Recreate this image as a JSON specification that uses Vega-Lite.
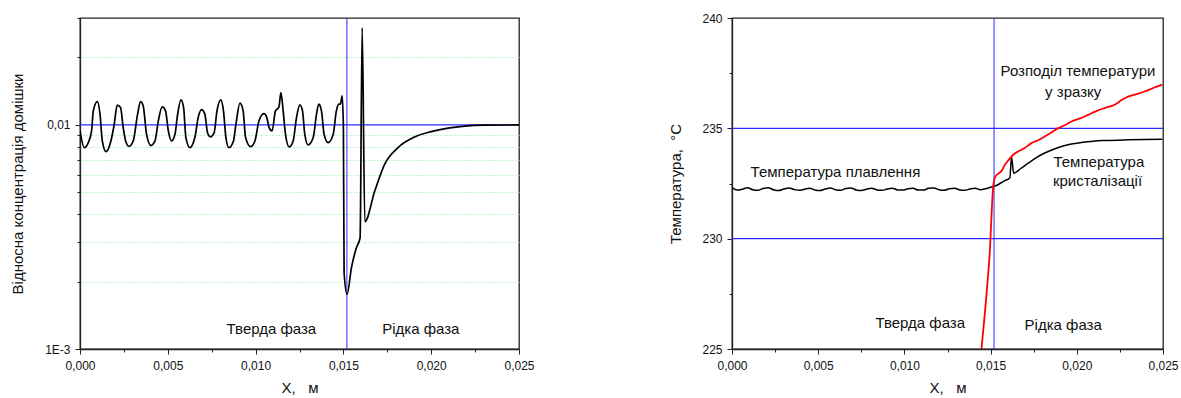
{
  "$schema": "https://vega.github.io/schema/vega-lite/v6.json",
  "padding": {"left": 10, "top": 11, "right": 5, "bottom": 0},
  "config": {
    "font": "Liberation Sans",
    "view": {"stroke": "#222", "strokeWidth": 1.3},
    "axis": {"domainColor": "#222", "domainWidth": 1.3, "tickColor": "#222", "tickWidth": 1, "labelFont": "Liberation Sans", "labelFontSize": 12, "labelColor": "#111", "labelFlush": false, "titleFont": "Liberation Sans", "titleFontSize": 15, "titleFontWeight": "normal", "titleColor": "#111", "grid": false},
    "text": {"font": "Liberation Sans", "fontSize": 15, "color": "#111"}
  },
  "datasets": {
    "conc": [
      {"x": 0, "y": 0.0094}, {"x": 0.000245, "y": 0.00792}, {"x": 0.000472, "y": 0.00834}, {"x": 0.00066, "y": 0.0094}, {"x": 0.000757, "y": 0.01155}, {"x": 0.000985, "y": 0.0127}, {"x": 0.00114, "y": 0.01117}, {"x": 0.00127, "y": 0.00848}, {"x": 0.00148, "y": 0.0076}, {"x": 0.00176, "y": 0.00848}, {"x": 0.00195, "y": 0.01007}, {"x": 0.00212, "y": 0.01225}, {"x": 0.00231, "y": 0.01195}, {"x": 0.00246, "y": 0.00973}, {"x": 0.0026, "y": 0.00848}, {"x": 0.00279, "y": 0.00803}, {"x": 0.00303, "y": 0.00848}, {"x": 0.00328, "y": 0.01117}, {"x": 0.00345, "y": 0.0127}, {"x": 0.0036, "y": 0.01216}, {"x": 0.00379, "y": 0.00909}, {"x": 0.00404, "y": 0.00809}, {"x": 0.00427, "y": 0.00848}, {"x": 0.00446, "y": 0.01042}, {"x": 0.00468, "y": 0.01203}, {"x": 0.00487, "y": 0.01155}, {"x": 0.00503, "y": 0.0094}, {"x": 0.00521, "y": 0.00848}, {"x": 0.00541, "y": 0.00909}, {"x": 0.00556, "y": 0.01117}, {"x": 0.00575, "y": 0.01294}, {"x": 0.0059, "y": 0.01195}, {"x": 0.00603, "y": 0.00878}, {"x": 0.00626, "y": 0.00792}, {"x": 0.00654, "y": 0.00878}, {"x": 0.00673, "y": 0.01078}, {"x": 0.00692, "y": 0.0117}, {"x": 0.00711, "y": 0.01117}, {"x": 0.00726, "y": 0.00924}, {"x": 0.00742, "y": 0.00884}, {"x": 0.00764, "y": 0.00924}, {"x": 0.0078, "y": 0.01155}, {"x": 0.00802, "y": 0.01294}, {"x": 0.00817, "y": 0.01155}, {"x": 0.00831, "y": 0.00878}, {"x": 0.00848, "y": 0.00792}, {"x": 0.00874, "y": 0.00848}, {"x": 0.00888, "y": 0.01007}, {"x": 0.00911, "y": 0.0125}, {"x": 0.00929, "y": 0.01155}, {"x": 0.00943, "y": 0.00878}, {"x": 0.00971, "y": 0.008}, {"x": 0.00996, "y": 0.00848}, {"x": 0.01019, "y": 0.01042}, {"x": 0.01047, "y": 0.01123}, {"x": 0.01064, "y": 0.01078}, {"x": 0.01077, "y": 0.00973}, {"x": 0.01094, "y": 0.0094}, {"x": 0.01113, "y": 0.01155}, {"x": 0.01133, "y": 0.01203}, {"x": 0.01144, "y": 0.01393}, {"x": 0.01157, "y": 0.01155}, {"x": 0.0117, "y": 0.00909}, {"x": 0.01191, "y": 0.00797}, {"x": 0.01214, "y": 0.00848}, {"x": 0.01233, "y": 0.01078}, {"x": 0.01252, "y": 0.01228}, {"x": 0.01267, "y": 0.01155}, {"x": 0.0128, "y": 0.00909}, {"x": 0.01299, "y": 0.00814}, {"x": 0.01328, "y": 0.00878}, {"x": 0.01347, "y": 0.01117}, {"x": 0.0136, "y": 0.01238}, {"x": 0.01375, "y": 0.01155}, {"x": 0.0139, "y": 0.00909}, {"x": 0.01413, "y": 0.00834}, {"x": 0.01442, "y": 0.00909}, {"x": 0.0146, "y": 0.01155}, {"x": 0.01474, "y": 0.01238}, {"x": 0.01483, "y": 0.01238}, {"x": 0.01493, "y": 0.01347}, {"x": 0.015, "y": 0.00973}, {"x": 0.01504, "y": 0.00219}, {"x": 0.01521, "y": 0.001754}, {"x": 0.01546, "y": 0.002307}, {"x": 0.01574, "y": 0.002831}, {"x": 0.01595, "y": 0.00313}, {"x": 0.01607, "y": 0.0271}, {"x": 0.01622, "y": 0.0037}, {"x": 0.01679, "y": 0.00508}, {"x": 0.01736, "y": 0.0067}, {"x": 0.01811, "y": 0.00792}, {"x": 0.01906, "y": 0.00884}, {"x": 0.01999, "y": 0.00933}, {"x": 0.02096, "y": 0.00967}, {"x": 0.02191, "y": 0.00987}, {"x": 0.02305, "y": 0.00997}, {"x": 0.025, "y": 0.01}
    ],
    "tblack": [
      {"x": 0, "y": 232.32}, {"x": 0.0003, "y": 232.2}, {"x": 0.0006, "y": 232.24}, {"x": 0.0009, "y": 232.31}, {"x": 0.0012, "y": 232.22}, {"x": 0.0015, "y": 232.19}, {"x": 0.0018, "y": 232.27}, {"x": 0.0021, "y": 232.31}, {"x": 0.0024, "y": 232.22}, {"x": 0.0027, "y": 232.18}, {"x": 0.003, "y": 232.25}, {"x": 0.0033, "y": 232.3}, {"x": 0.0036, "y": 232.23}, {"x": 0.0039, "y": 232.19}, {"x": 0.0042, "y": 232.24}, {"x": 0.0045, "y": 232.29}, {"x": 0.0048, "y": 232.21}, {"x": 0.0051, "y": 232.18}, {"x": 0.0054, "y": 232.25}, {"x": 0.0057, "y": 232.3}, {"x": 0.006, "y": 232.22}, {"x": 0.0063, "y": 232.19}, {"x": 0.0066, "y": 232.27}, {"x": 0.0069, "y": 232.3}, {"x": 0.0072, "y": 232.21}, {"x": 0.0075, "y": 232.18}, {"x": 0.0078, "y": 232.24}, {"x": 0.0081, "y": 232.29}, {"x": 0.0084, "y": 232.21}, {"x": 0.0087, "y": 232.19}, {"x": 0.009, "y": 232.25}, {"x": 0.0093, "y": 232.29}, {"x": 0.0096, "y": 232.21}, {"x": 0.0099, "y": 232.2}, {"x": 0.0102, "y": 232.26}, {"x": 0.0105, "y": 232.28}, {"x": 0.0108, "y": 232.2}, {"x": 0.0111, "y": 232.2}, {"x": 0.0114, "y": 232.28}, {"x": 0.0117, "y": 232.3}, {"x": 0.012, "y": 232.22}, {"x": 0.0123, "y": 232.19}, {"x": 0.0126, "y": 232.26}, {"x": 0.0129, "y": 232.29}, {"x": 0.0132, "y": 232.21}, {"x": 0.0135, "y": 232.19}, {"x": 0.0138, "y": 232.25}, {"x": 0.0141, "y": 232.29}, {"x": 0.0144, "y": 232.22}, {"x": 0.0147, "y": 232.26}, {"x": 0.015, "y": 232.33}, {"x": 0.01525, "y": 232.38}, {"x": 0.0158, "y": 232.62}, {"x": 0.01612, "y": 232.76}, {"x": 0.01621, "y": 233.7}, {"x": 0.01634, "y": 232.97}, {"x": 0.01675, "y": 233.18}, {"x": 0.01718, "y": 233.42}, {"x": 0.01765, "y": 233.67}, {"x": 0.01814, "y": 233.88}, {"x": 0.01862, "y": 234.04}, {"x": 0.01911, "y": 234.18}, {"x": 0.01968, "y": 234.29}, {"x": 0.02027, "y": 234.36}, {"x": 0.02095, "y": 234.42}, {"x": 0.02162, "y": 234.45}, {"x": 0.02297, "y": 234.48}, {"x": 0.02496, "y": 234.5}
    ],
    "tred": [
      {"x": 0.01447, "y": 225.0}, {"x": 0.0147, "y": 226.9}, {"x": 0.01486, "y": 228.4}, {"x": 0.01496, "y": 229.5}, {"x": 0.01505, "y": 231.0}, {"x": 0.01515, "y": 232.36}, {"x": 0.01528, "y": 232.82}, {"x": 0.01545, "y": 232.95}, {"x": 0.01563, "y": 233.06}, {"x": 0.01583, "y": 233.35}, {"x": 0.016, "y": 233.52}, {"x": 0.01621, "y": 233.72}, {"x": 0.0164, "y": 233.86}, {"x": 0.0166, "y": 233.95}, {"x": 0.017, "y": 234.12}, {"x": 0.01737, "y": 234.33}, {"x": 0.01775, "y": 234.46}, {"x": 0.01814, "y": 234.63}, {"x": 0.0185, "y": 234.8}, {"x": 0.01892, "y": 235.01}, {"x": 0.0193, "y": 235.14}, {"x": 0.01969, "y": 235.31}, {"x": 0.0202, "y": 235.45}, {"x": 0.02066, "y": 235.61}, {"x": 0.0211, "y": 235.77}, {"x": 0.02162, "y": 235.92}, {"x": 0.0222, "y": 236.07}, {"x": 0.0226, "y": 236.28}, {"x": 0.02297, "y": 236.44}, {"x": 0.0235, "y": 236.56}, {"x": 0.02394, "y": 236.67}, {"x": 0.0245, "y": 236.85}, {"x": 0.02496, "y": 236.98}
    ],
    "iface": [{"x": 0.0152}],
    "hlinesL": [{"y": 0.01}],
    "hlinesR": [{"y": 230}, {"y": 235}],
    "labelsL": [
      {"x": 0.0109, "y": 0.001225, "t": "Тверда фаза"},
      {"x": 0.01941, "y": 0.001225, "t": "Рідка фаза"}
    ],
    "labelsR": [
      {"x": 0.02007, "y": 237.58, "t": "Розподіл температури"},
      {"x": 0.01979, "y": 236.63, "t": "у зразку"},
      {"x": 0.02128, "y": 233.47, "t": "Температура"},
      {"x": 0.0212, "y": 232.62, "t": "кристалізації"},
      {"x": 0.006, "y": 233.03, "t": "Температура плавлення"},
      {"x": 0.01092, "y": 226.17, "t": "Тверда фаза"},
      {"x": 0.01921, "y": 226.09, "t": "Рідка фаза"}
    ]
  },
  "bounds": "flush",
  "spacing": 213,
  "hconcat": [
    {
      "width": 439,
      "height": 331,
      "layer": [
        {
          "data": {"name": "iface"},
          "mark": {"type": "rule", "color": "#2a2aff", "strokeWidth": 1},
          "encoding": {
            "x": {"field": "x", "type": "quantitative", "scale": {"domain": [0, 0.025], "nice": false, "zero": false},
              "axis": {"title": "X,\u00a0\u00a0\u00a0м", "values": [0, 0.0025, 0.005, 0.0075, 0.01, 0.0125, 0.015, 0.0175, 0.02, 0.0225, 0.025],
                "labelExpr": "abs(datum.value/0.005 - round(datum.value/0.005)) < 1e-6 ? replace(format(datum.value, '.3f'), '.', ',') : ''",
                "tickSize": {"condition": {"test": "abs(datum.value/0.005 - round(datum.value/0.005)) < 1e-6", "value": 5}, "value": 3},
                "labelPadding": 6, "titlePadding": 9}}
          }
        },
        {
          "data": {"name": "hlinesL"},
          "mark": {"type": "rule", "color": "#2a2aff", "strokeWidth": 1.2},
          "encoding": {
            "y": {"field": "y", "type": "quantitative"}
          }
        },
        {
          "data": {"name": "conc"},
          "mark": {"type": "line", "color": "#000", "strokeWidth": 1.7, "interpolate": "monotone", "clip": true},
          "encoding": {
            "x": {"field": "x", "type": "quantitative"},
            "y": {"field": "y", "type": "quantitative", "scale": {"type": "log", "domain": [0.001, 0.03], "nice": false},
              "axis": {"title": "Відносна концентрація домішки",
                "values": [0.001, 0.002, 0.003, 0.004, 0.005, 0.006, 0.007, 0.008, 0.009, 0.01, 0.02, 0.03],
                "labelExpr": "datum.value == 0.01 ? '0,01' : (datum.value == 0.001 ? '1E-3' : '')",
                "tickSize": {"condition": {"test": "datum.value == 0.01 || datum.value == 0.001", "value": 5}, "value": 3},
                "labelPadding": 5, "titlePadding": 19,
                "grid": true,
                "gridColor": "#8ee88e",
                "gridDash": [1, 2],
                "gridOpacity": {"condition": {"test": "datum.value == 0.001 || datum.value == 0.03 || datum.value == 0.01", "value": 0}, "value": 1}}}
          }
        },
        {
          "data": {"name": "labelsL"},
          "mark": {"type": "text", "align": "center", "baseline": "middle"},
          "encoding": {
            "x": {"field": "x", "type": "quantitative"},
            "y": {"field": "y", "type": "quantitative"},
            "text": {"field": "t"}
          }
        }
      ]
    },
    {
      "width": 431,
      "height": 331,
      "layer": [
        {
          "data": {"name": "iface"},
          "mark": {"type": "rule", "color": "#2a2aff", "strokeWidth": 1},
          "encoding": {
            "x": {"field": "x", "type": "quantitative", "scale": {"domain": [0, 0.025], "nice": false, "zero": false},
              "axis": {"title": "X,\u00a0\u00a0\u00a0м", "values": [0, 0.0025, 0.005, 0.0075, 0.01, 0.0125, 0.015, 0.0175, 0.02, 0.0225, 0.025],
                "labelExpr": "abs(datum.value/0.005 - round(datum.value/0.005)) < 1e-6 ? replace(format(datum.value, '.3f'), '.', ',') : ''",
                "tickSize": {"condition": {"test": "abs(datum.value/0.005 - round(datum.value/0.005)) < 1e-6", "value": 5}, "value": 3},
                "labelPadding": 6, "titlePadding": 9}}
          }
        },
        {
          "data": {"name": "hlinesR"},
          "mark": {"type": "rule", "color": "#2a2aff", "strokeWidth": 1.2},
          "encoding": {
            "y": {"field": "y", "type": "quantitative"}
          }
        },
        {
          "data": {"name": "tblack"},
          "mark": {"type": "line", "color": "#000", "strokeWidth": 1.5, "interpolate": "monotone", "clip": true},
          "encoding": {
            "x": {"field": "x", "type": "quantitative"},
            "y": {"field": "y", "type": "quantitative", "scale": {"domain": [225, 240], "nice": false, "zero": false},
              "axis": {"title": "Температура,\u00a0\u00a0°C",
                "values": [225, 227.5, 230, 232.5, 235, 237.5, 240],
                "labelExpr": "datum.value % 5 == 0 ? datum.label : ''",
                "tickSize": {"condition": {"test": "datum.value % 5 == 0", "value": 5}, "value": 3},
                "labelPadding": 5, "titlePadding": 18}}
          }
        },
        {
          "data": {"name": "tred"},
          "mark": {"type": "line", "color": "#ff0000", "strokeWidth": 1.8, "interpolate": "monotone", "clip": true},
          "encoding": {
            "x": {"field": "x", "type": "quantitative"},
            "y": {"field": "y", "type": "quantitative"}
          }
        },
        {
          "data": {"name": "labelsR"},
          "mark": {"type": "text", "align": "center", "baseline": "middle"},
          "encoding": {
            "x": {"field": "x", "type": "quantitative"},
            "y": {"field": "y", "type": "quantitative"},
            "text": {"field": "t"}
          }
        }
      ]
    }
  ]
}
